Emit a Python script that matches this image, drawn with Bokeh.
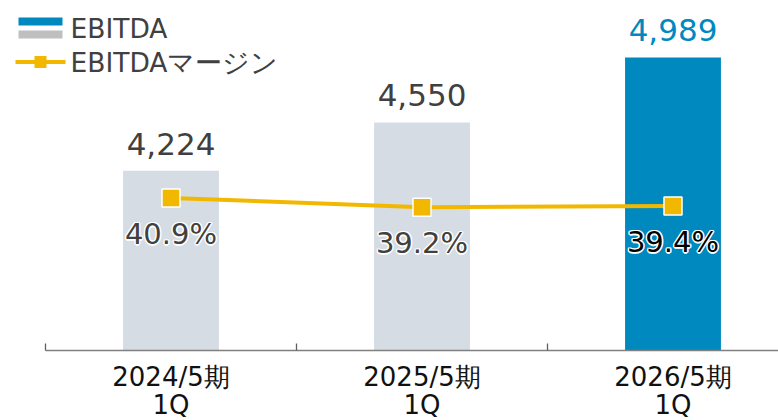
from bokeh.plotting import figure
from bokeh.models import (Range1d, FixedTicker, ColumnDataSource, LabelSet, Label, LinearAxis)
from bokeh.core.properties import value
from bokeh.embed import file_html
from bokeh.resources import INLINE

# ---- data ----
categories = ["2024/5期\n1Q", "2025/5期\n1Q", "2026/5期\n1Q"]
ebitda = [4224, 4550, 4989]
ebitda_labels = ["4,224", "4,550", "4,989"]
margin = [40.9, 39.2, 39.4]
margin_labels = ["40.9%", "39.2%", "39.4%"]

# ---- styles ----
GRAY = "#D5DCE4"
BLUE = "#0089BF"
GOLD = "#F2B800"
TXT = "#404040"
FONT = "DejaVu Sans"

W, H = 778, 420
# geometry (pixels); the frame fills the whole canvas
AXIS_PX = 350       # pixel row of the category axis
X0_PX = 45          # pixel where category 0 starts
CAT_PX = 251        # pixels per category
Y_BASE = 3010       # value at the axis
Y_PX = 0.1481       # pixels per unit
P_BASE = 12.66      # margin % at the axis
P_PX = 5.4          # pixels per percentage point

x_start = -X0_PX / CAT_PX
x_end = (W - X0_PX) / CAT_PX
y_start = Y_BASE - (H - AXIS_PX) / Y_PX
y_end = Y_BASE + AXIS_PX / Y_PX
p_start = P_BASE - (H - AXIS_PX) / P_PX
p_end = P_BASE + AXIS_PX / P_PX

def dx(px):
    return (px - X0_PX) / CAT_PX

def dy(py):
    return Y_BASE + (AXIS_PX - py) / Y_PX

p = figure(width=W, height=H, output_backend="svg", toolbar_location=None,
           x_range=Range1d(x_start, x_end), y_range=Range1d(y_start, y_end),
           min_border_left=0, min_border_right=0, min_border_top=0,
           min_border_bottom=0, x_axis_location=None, y_axis_location=None)
p.extra_y_ranges = {"pct": Range1d(p_start, p_end)}
p.outline_line_color = None
p.xgrid.visible = False
p.ygrid.visible = False
p.background_fill_color = "white"
p.border_fill_color = "white"

n = len(categories)
xs = [i + 0.5 for i in range(n)]
bar_colors = [GRAY] * (n - 1) + [BLUE]
val_colors = [TXT] * (n - 1) + [BLUE]
pct_colors = [TXT] * (n - 1) + ["#000000"]

src = ColumnDataSource(dict(x=xs, cat=categories, ebitda=ebitda, elab=ebitda_labels,
                            margin=margin, mlab=margin_labels, bc=bar_colors,
                            vc=val_colors, pc=pct_colors))

p.vbar(x="x", top="ebitda", bottom=Y_BASE, width=0.382, fill_color="bc",
       line_color=None, source=src)

p.line(x="x", y="margin", line_color=GOLD, line_width=4, y_range_name="pct", source=src)
p.scatter(x="x", y="margin", marker="square", size=18, fill_color=GOLD,
          line_color="white", line_width=1.5, y_range_name="pct", source=src)

p.add_layout(LabelSet(x="x", y="ebitda", text="elab", source=src, text_align="center",
                      text_baseline="middle", y_offset=27, text_font=value(FONT),
                      text_font_size="31px", text_color="vc"))

# white halo behind the margin labels
for ox, oy in [(-1.5, 0), (1.5, 0), (0, -1.5), (0, 1.5),
               (-1.1, -1.1), (1.1, -1.1), (-1.1, 1.1), (1.1, 1.1)]:
    p.add_layout(LabelSet(x="x", y="margin", text="mlab", source=src, y_range_name="pct",
                          text_align="center", text_baseline="middle",
                          x_offset=ox, y_offset=-36 + oy, text_font=value(FONT),
                          text_font_size="29px", text_color="white", text_alpha=0.9))
p.add_layout(LabelSet(x="x", y="margin", text="mlab", source=src, y_range_name="pct",
                      text_align="center", text_baseline="middle", y_offset=-36,
                      text_font=value(FONT), text_font_size="29px", text_color="pc"))

# ---- x axis, pinned at the base value ----
ax = LinearAxis(fixed_location=Y_BASE)
ax.ticker = FixedTicker(ticks=xs, minor_ticks=list(range(n)))
ax.major_label_overrides = {x: c for x, c in zip(xs, categories)}
ax.bounds = (0, x_end)
ax.axis_line_color = "#808080"
ax.axis_line_width = 1.3
ax.major_tick_in = 0
ax.major_tick_out = 0
ax.minor_tick_in = 7
ax.minor_tick_out = 0
ax.minor_tick_line_color = "#606060"
ax.minor_tick_line_width = 1.3
ax.major_label_standoff = 11
ax.major_label_text_font = FONT
ax.major_label_text_font_size = "26px"
ax.major_label_text_color = "#111111"
ax.major_label_text_line_height = 0.95
p.add_layout(ax, "below")

# ---- legend (custom) ----
p.quad(left=dx(18), right=dx(62), top=dy(17), bottom=dy(25), fill_color=BLUE, line_color=None)
p.quad(left=dx(18), right=dx(62), top=dy(30), bottom=dy(38), fill_color="#BFBFBF", line_color=None)
p.add_layout(Label(x=dx(70), y=dy(28), text="EBITDA", text_baseline="middle",
                   text_font=FONT, text_font_size="26.5px", text_color=TXT))
p.line(x=[dx(15), dx(65)], y=[dy(61.5), dy(61.5)], line_color=GOLD, line_width=4)
p.scatter(x=[dx(40)], y=[dy(61.5)], marker="square", size=12, fill_color=GOLD, line_color=None)
p.add_layout(Label(x=dx(70), y=dy(61.5), text="EBITDAマージン", text_baseline="middle",
                   text_font=FONT, text_font_size="26.5px", text_color=TXT))

open("out.html", "w").write(file_html(p, INLINE))
